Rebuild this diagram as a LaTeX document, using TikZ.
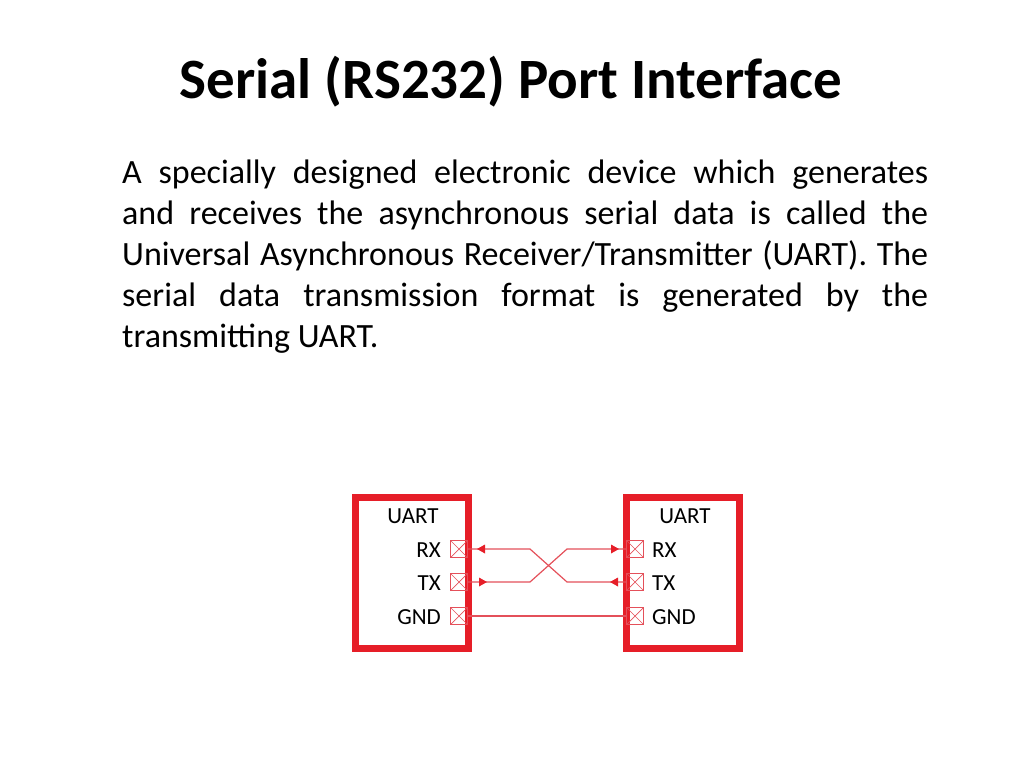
\documentclass[tikz,border=0pt]{standalone}
\usepackage{fontspec}
\setmainfont{Carlito}
\usetikzlibrary{arrows.meta}
\definecolor{ured}{RGB}{230,30,40}
\definecolor{lred}{RGB}{228,80,90}
\tikzset{x=1pt,y=-1pt,
 box/.style={draw=ured,line width=7pt},
 pin/.style={draw=lred,line width=0.9pt,minimum size=17pt,inner sep=0pt,path picture={\draw[lred,line width=0.7pt](path picture bounding box.north west)--(path picture bounding box.south east)(path picture bounding box.south west)--(path picture bounding box.north east);}},
 lbl/.style={font=\fontsize{23}{26}\selectfont,inner sep=0pt},
 wire/.style={draw=lred,line width=1.2pt},
 tipr/.style={fill=ured,draw=none}}
\begin{document}
\begin{tikzpicture}
\useasboundingbox (0,0) rectangle (1024,768);
\node[font=\fontsize{57}{62}\bfseries\selectfont] (title) at (511,82) {Serial (RS232) Port Interface};
\node[anchor=north west,text width=806pt,align=justify,inner sep=0pt,font=\fontsize{34}{41}\selectfont] (body) at (122,160) {A specially designed electronic device which generates\linebreak and receives the asynchronous serial data is called the\linebreak Universal Asynchronous Receiver/Transmitter (UART). The\linebreak serial data transmission format is generated by the\linebreak transmitting UART.};
\draw[box] (355.5,497.5) rectangle (468.5,648.5);
\draw[box] (626.5,497.5) rectangle (739.5,648.5);
\node[lbl] (u1) at (413,516) {UART};
\node[lbl] (u2) at (685,516) {UART};
\node[pin] (lrx) at (459,549) {};
\node[pin] (ltx) at (459,582) {};
\node[pin] (lg) at (459,616) {};
\node[pin] (rrx) at (635,549) {};
\node[pin] (rtx) at (635,582) {};
\node[pin] (rg) at (635,616) {};
\node[lbl,anchor=east] at (441,550) {RX};
\node[lbl,anchor=east] at (441,583) {TX};
\node[lbl,anchor=east] at (441,617) {GND};
\node[lbl,anchor=west] at (652,550) {RX};
\node[lbl,anchor=west] at (652,583) {TX};
\node[lbl,anchor=west] at (652,617) {GND};
\coordinate (a1) at (530,549); \coordinate (a2) at (567,582);
\coordinate (b1) at (530,582); \coordinate (b2) at (567,549);
\draw[wire] (lrx.east)--(a1)--(a2)--(rtx.west);
\draw[wire] (ltx.east)--(b1)--(b2)--(rrx.west);
\draw[wire] (lg.east)--(rg.west);
\fill[tipr] (477,549)--(485,544.5)--(485,553.5)--cycle;
\fill[tipr] (487,582)--(479,577.5)--(479,586.5)--cycle;
\fill[tipr] (619,549)--(611,544.5)--(611,553.5)--cycle;
\fill[tipr] (610,582)--(618,577.5)--(618,586.5)--cycle;
\end{tikzpicture}
\end{document}
